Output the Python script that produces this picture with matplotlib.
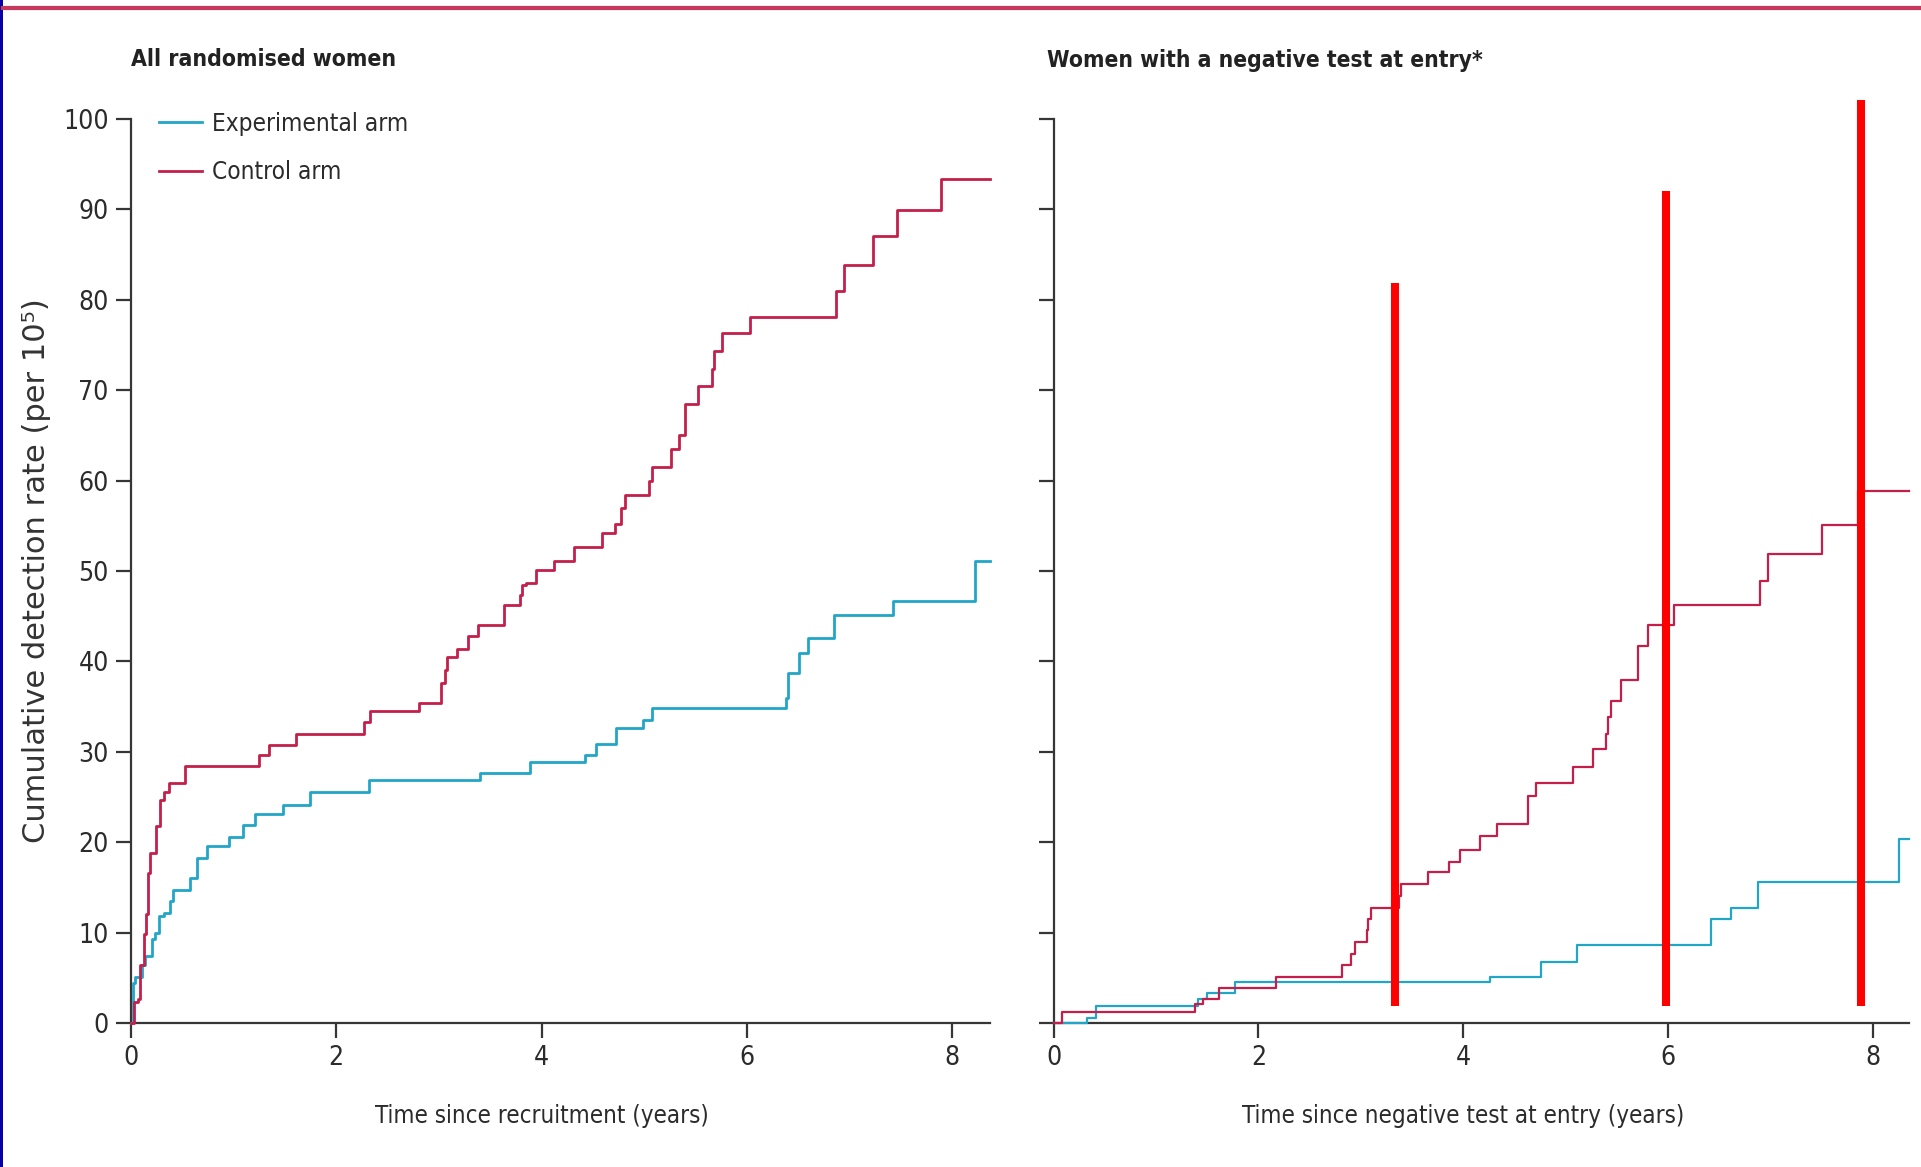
import matplotlib
matplotlib.use('Agg')
import matplotlib.pyplot as plt
from matplotlib.lines import Line2D
from matplotlib.patches import Rectangle

# ── Data ─────────────────────────────────────────────────────────────────────
# All randomised women
all_exp_t = [0, 0.016, 0.042, 0.104, 0.14, 0.20, 0.237, 0.27, 0.325, 0.384,
             0.407, 0.576, 0.641, 0.738, 0.953, 1.096, 1.213, 1.483, 1.743, 2.32,
             3.40, 3.89, 4.42, 4.53, 4.73, 4.99, 5.08, 6.38, 6.40, 6.51,
             6.60, 6.85, 7.42, 8.22, 8.37]
all_exp_v = [0, 4.4, 5.1, 6.4, 7.4, 9.3, 10.0, 11.8, 12.2, 13.5,
             14.7, 16.0, 18.3, 19.6, 20.6, 21.9, 23.1, 24.1, 25.6, 26.9,
             27.7, 28.9, 29.6, 30.9, 32.6, 33.5, 34.8, 35.9, 38.7, 40.9,
             42.6, 45.1, 46.7, 51.1, 51.1]

all_ctl_t = [0, 0.03, 0.065, 0.088, 0.124, 0.146, 0.169, 0.185, 0.244, 0.286,
             0.325, 0.367, 0.524, 1.245, 1.343, 1.603, 2.27, 2.325, 2.81, 3.02,
             3.06, 3.08, 3.18, 3.28, 3.38, 3.63, 3.79, 3.81, 3.85, 3.95,
             4.12, 4.32, 4.59, 4.72, 4.77, 4.81, 5.05, 5.08, 5.26, 5.34,
             5.40, 5.52, 5.66, 5.68, 5.76, 6.03, 6.87, 6.95, 7.23, 7.46,
             7.89, 8.37]
all_ctl_v = [0, 2.3, 2.6, 6.4, 9.9, 12.1, 16.6, 18.8, 21.8, 24.7,
             25.6, 26.6, 28.4, 29.7, 30.7, 32.0, 33.3, 34.5, 35.4, 37.6,
             39.1, 40.5, 41.4, 42.8, 44.0, 46.2, 47.4, 48.4, 48.7, 50.1,
             51.1, 52.6, 54.2, 55.2, 57.0, 58.4, 60.0, 61.5, 63.5, 65.0,
             68.5, 70.5, 72.4, 74.3, 76.3, 78.1, 81.0, 83.8, 87.1, 89.9,
             93.4, 93.4]

# Women with a negative test at entry
neg_exp_t = [0, 0.331, 0.417, 1.411, 1.497, 1.771, 4.257, 4.754, 5.114, 6.417,
             6.617, 6.874, 8.257, 8.35]
neg_exp_v = [0, 0.6, 1.9, 2.6, 3.3, 4.5, 5.1, 6.7, 8.6, 11.5,
             12.7, 15.6, 20.4, 20.4]

neg_ctl_t = [0, 0.086, 1.383, 1.457, 1.611, 2.171, 2.817, 2.903, 2.943, 3.057,
             3.074, 3.097, 3.371, 3.389, 3.657, 3.857, 3.971, 4.16, 4.331, 4.629,
             4.714, 5.074, 5.269, 5.389, 5.417, 5.44, 5.543, 5.703, 5.8, 6.057,
             6.897, 6.971, 7.503, 7.857, 8.35]
neg_ctl_v = [0, 1.2, 2.1, 2.6, 3.9, 5.1, 6.4, 7.6, 9.0, 10.3,
             11.5, 12.7, 14.0, 15.4, 16.7, 17.8, 19.1, 20.7, 22.0, 25.1,
             26.5, 28.3, 30.3, 32.0, 33.9, 35.6, 37.9, 41.7, 44.0, 46.2,
             48.9, 51.9, 55.1, 58.9, 58.9]

# red marker bars drawn over the right panel
mark_x = [3.33, 5.977, 7.886]
mark_top = [81.9, 92.0, 102.1]
mark_bottom = [1.9, 1.9, 1.9]

y_ticks = list(range(0, 101, 10))
x_ticks = [0, 2, 4, 6, 8]

EXP_COL = '#21a6c8'
CTL_COL = '#c41f4b'
AX_COL = '#363636'
TXT_COL = '#2b2b2b'
COND = dict(family='DejaVu Sans', stretch='condensed')

# ── Figure ───────────────────────────────────────────────────────────────────
W, H = 1921, 1167
fig = plt.figure(figsize=(W / 100, H / 100), dpi=100)
fig.patch.set_facecolor('white')

ax1 = fig.add_axes([131 / W, 144 / H, 859 / W, 904 / H])
ax2 = fig.add_axes([1053.5 / W, 144 / H, 855.5 / W, 904 / H])


def style_axis(ax, xmax, xlabel):
    ax.set_xlim(0, xmax)
    ax.set_ylim(0, 100)
    for side in ('top', 'right'):
        ax.spines[side].set_visible(False)
    for side in ('left', 'bottom'):
        ax.spines[side].set_color(AX_COL)
        ax.spines[side].set_linewidth(1.6)
    ax.set_xticks(x_ticks)
    ax.set_yticks(y_ticks)
    ax.tick_params(direction='out', length=11, width=1.6, color=AX_COL,
                   labelsize=19, labelcolor=TXT_COL, pad=5)
    for lab in ax.get_xticklabels() + ax.get_yticklabels():
        lab.set_family(COND['family'])
        lab.set_stretch(COND['stretch'])
    ax.set_xlabel(xlabel, fontsize=17.3, color=TXT_COL, **COND)
    ax.xaxis.label.set_va('center')
    ax.xaxis.set_label_coords(4 / xmax, -0.103)


ax1.step(all_exp_t, all_exp_v, where='post', color=EXP_COL, lw=2.0,
         label='Experimental arm', clip_on=False, zorder=3)
ax1.step(all_ctl_t, all_ctl_v, where='post', color=CTL_COL, lw=2.0,
         label='Control arm', clip_on=False, zorder=3)
style_axis(ax1, 8.37, 'Time since recruitment (years)')

leg = ax1.legend(loc='upper left', bbox_to_anchor=(0.0326, 1.008), frameon=False,
                 borderpad=0, borderaxespad=0, handlelength=1.75, handletextpad=0.42,
                 labelspacing=1.0,
                 prop={'family': 'DejaVu Sans', 'stretch': 'condensed', 'size': 17.5})
for txt in leg.get_texts():
    txt.set_color(TXT_COL)

ax2.step(neg_exp_t, neg_exp_v, where='post', color=EXP_COL, lw=1.6,
         clip_on=False, zorder=3)
ax2.step(neg_ctl_t, neg_ctl_v, where='post', color=CTL_COL, lw=1.6,
         clip_on=False, zorder=3)
style_axis(ax2, 8.35, 'Time since negative test at entry (years)')
ax2.tick_params(axis='y', labelleft=False)

ax2.vlines(mark_x, mark_bottom, mark_top, colors='#ff0000', lw=5.8,
           clip_on=False, zorder=5)

# panel titles
fig.text(131 / W, 1 - 60 / H, 'All randomised women', fontsize=16.5,
         fontweight='bold', color='#222222', va='center', ha='left', **COND)
fig.text(1047 / W, 1 - 60 / H, 'Women with a negative test at entry*', fontsize=16.4,
         fontweight='bold', color='#222222', va='center', ha='left', **COND)

# shared y label
fig.text(37 / W, 1 - 571 / H, 'Cumulative detection rate (per 10\u2075)',
         rotation=90, fontsize=22, family='DejaVu Sans', color='#333333',
         va='center', ha='center')

# page decorations: crimson rule on top, blue frame edge on the left
fig.add_artist(Line2D([3 / W, 1], [1 - 8 / H, 1 - 8 / H], transform=fig.transFigure,
                      color='#c8375c', lw=3))
fig.add_artist(Rectangle((0, 0), 3 / W, 1, transform=fig.transFigure,
                         color='#0a00a8', lw=0))

fig.savefig('out.png', dpi=100)
